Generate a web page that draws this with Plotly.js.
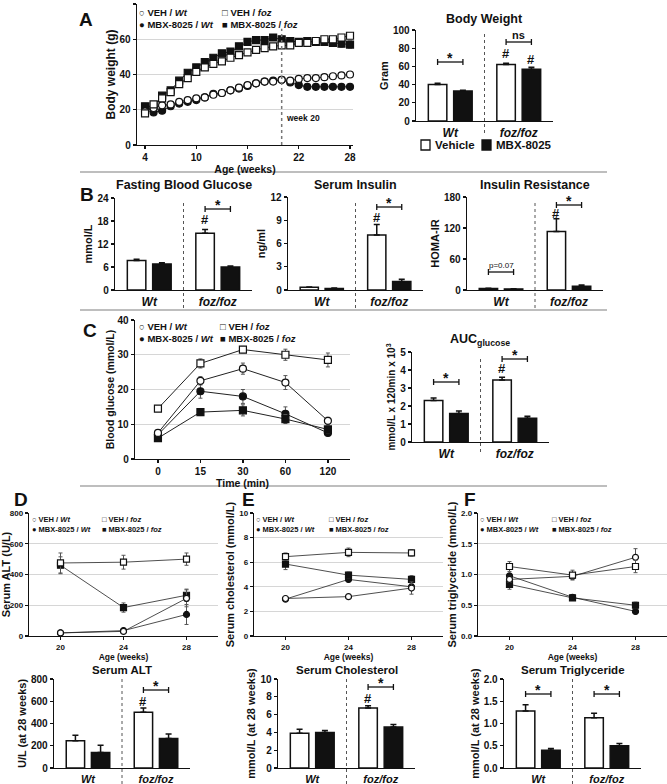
<!DOCTYPE html>
<html><head><meta charset="utf-8">
<script src="https://cdn.plot.ly/plotly-3.0.1.min.js"></script>
<style>html,body{margin:0;padding:0;background:#fff}#chart{width:667px;height:784px}</style>
</head><body><div id="chart"></div>
<script>
// ================= DATA =================
// Panel A (left): body weight by age
const weeksA = [4,5,6,7,8,9,10,11,12,13,14,15,16,17,18,19,20,21,22,23,24,25,26,27,28];
const bwVehWt  = [19,21,22.5,23,24.5,25.5,26.5,27,28.5,29.5,31,32.5,34,35,36,36,37,36.5,37.5,38,38,38.5,39,39.5,40];
const bwMbxWt  = [20,18.5,19.5,22,23.5,24.5,25.5,27,29,29.5,31,32,33.5,35,36,36.5,37,35.5,34,33,33,33,33,33,33];
const bwVehFoz = [18,23,26.5,30,34.5,38,41.5,44,46,47.5,49.5,51,52.5,54,55,56,56.5,56.5,58,58,59,60,60,61,62];
const bwMbxFoz = [22,22,28,31,36.5,41,44,47,49.5,52,53,56,58.5,59.5,59.5,61,60,59,58.5,59,58.5,58.5,58,57.5,57];
const bwVehWtErr  = [0.6,0.6,0.6,0.7,0.7,0.8,0.8,0.9,0.9,1,1,1.1,1.2,1.4,1.5,1.6,1.8,1.5,1.4,1.3,1.2,1.2,1.2,1.2,1.3];
const bwMbxWtErr  = [0.6,0.6,0.6,0.7,0.7,0.7,0.8,0.8,0.9,0.9,1,1,1.1,1.2,1.3,1.3,1.4,1.3,1.2,1.1,1,1,1,1,1];
const bwVehFozErr = [0.8,0.9,1,1,1.1,1.2,1.2,1.3,1.3,1.3,1.4,1.4,1.4,1.5,1.5,1.5,1.5,1.5,1.5,1.5,1.5,1.5,1.5,1.5,1.5];
const bwMbxFozErr = [0.8,0.9,1,1,1.1,1.2,1.2,1.3,1.3,1.3,1.4,1.4,1.5,1.5,1.5,1.6,1.6,1.6,1.7,1.7,1.8,1.8,1.9,2,2];

// Bar groups
const groups = ['Wt', 'foz/foz'];
// Panel A (right): body weight
const bwVeh = [40, 62], bwVehErr = [1.5, 1.5];
const bwMbx = [33, 57], bwMbxErr = [0.7, 2];
// Panel B
const fbgVeh = [7.7, 14.8], fbgVehErr = [0.3, 1.0];
const fbgMbx = [6.8, 6.0],  fbgMbxErr = [0.3, 0.25];
const insVeh = [0.35, 7.1], insVehErr = [0.05, 1.35];
const insMbx = [0.2, 1.1],  insMbxErr = [0.05, 0.3];
const homaVeh = [3, 113],   homaVehErr = [0.5, 25];
const homaMbx = [2, 7.5],   homaMbxErr = [0.3, 2];
// Panel C (left): GTT
const timesC = ['0', '15', '30', '60', '120'];
const gttVehWt  = [7.5, 22.5, 26, 22, 11],      gttVehWtErr  = [0.6, 1.2, 1.6, 2, 1];
const gttMbxWt  = [7, 19.5, 18, 13, 7.5],       gttMbxWtErr  = [0.5, 2, 2, 2, 0.6];
const gttVehFoz = [14.5, 27.5, 31.5, 30, 28.5], gttVehFozErr = [0.7, 1.3, 0.9, 1.6, 2];
const gttMbxFoz = [6, 13.5, 14, 11.5, 8.5],     gttMbxFozErr = [0.6, 1, 1.6, 1.3, 1];
// Panel C (right): AUC
const aucVeh = [2.3, 3.45], aucVehErr = [0.15, 0.15];
const aucMbx = [1.58, 1.32], aucMbxErr = [0.14, 0.11];
// Panels D/E/F (top): time course
const weeksDEF = [20, 24, 28];
const altVehWt  = [20, 30, 245],   altVehWtErr  = [5, 8, 55];
const altMbxWt  = [20, 35, 140],   altMbxWtErr  = [5, 10, 65];
const altVehFoz = [475, 480, 500], altVehFozErr = [65, 45, 40];
const altMbxFoz = [460, 185, 265], altMbxFozErr = [55, 30, 40];
const cholVehWt  = [3.05, 3.2, 3.9],  cholVehWtErr  = [0.1, 0.1, 0.5];
const cholMbxWt  = [3.0, 4.6, 4.0],   cholMbxWtErr  = [0.1, 0.2, 0.2];
const cholVehFoz = [6.45, 6.8, 6.75], cholVehFozErr = [0.3, 0.35, 0.25];
const cholMbxFoz = [5.85, 4.95, 4.6], cholMbxFozErr = [0.45, 0.25, 0.3];
const tgVehWt  = [0.92, 0.97, 1.28], tgVehWtErr  = [0.05, 0.03, 0.14];
const tgMbxWt  = [0.98, 0.63, 0.40], tgMbxWtErr  = [0.03, 0.03, 0.04];
const tgVehFoz = [1.13, 0.99, 1.13], tgVehFozErr = [0.08, 0.08, 0.1];
const tgMbxFoz = [0.84, 0.62, 0.50], tgMbxFozErr = [0.08, 0.03, 0.05];
// Panels D/E/F (bottom): at 28 weeks
const altBarVeh = [245, 500],  altBarVehErr = [50, 40];
const altBarMbx = [140, 265],  altBarMbxErr = [65, 40];
const cholBarVeh = [3.9, 6.75], cholBarVehErr = [0.45, 0.25];
const cholBarMbx = [4.0, 4.6],  cholBarMbxErr = [0.2, 0.3];
const tgBarVeh = [1.28, 1.13],  tgBarVehErr = [0.14, 0.1];
const tgBarMbx = [0.40, 0.50],  tgBarMbxErr = [0.04, 0.05];

// ================= LAYOUT HELPERS =================
const W = 667, H = 784;
const FONT = 'Liberation Sans, Arial, Helvetica, sans-serif';
const X = p => p / W;
const Y = p => 1 - p / H;
const fnt = (size, extra) => Object.assign({family: FONT, size: size, color: '#111', weight: 'bold'}, extra || {});
const BLACK = '#111';

const traces = [], shapes = [], annotations = [];
const layout = {
  width: W, height: H, margin: {l: 0, r: 0, t: 0, b: 0},
  paper_bgcolor: '#fff', plot_bgcolor: 'rgba(0,0,0,0)',
  showlegend: false, barmode: 'overlay', font: {family: FONT, color: BLACK},
  shapes: shapes, annotations: annotations
};

const P = {
  aL: {n: 1,  x: [137, 353], y: [4, 145]},
  aR: {n: 2,  x: [416, 553], y: [30, 121], max: 100, dt: 20},
  b1: {n: 3,  x: [115, 252], y: [198, 290], max: 24, dt: 6},
  b2: {n: 4,  x: [288, 423], y: [197, 290], max: 12, dt: 3},
  b3: {n: 5,  x: [467, 603], y: [197, 290], max: 180, dt: 60},
  cL: {n: 6,  x: [135, 350], y: [320, 459]},
  cR: {n: 7,  x: [412, 549], y: [352, 442], max: 5, dt: 1},
  dT: {n: 8,  x: [29, 218],  y: [513, 636]},
  eT: {n: 9,  x: [254, 443], y: [513, 636]},
  fT: {n: 10, x: [478, 667], y: [513, 636]},
  dB: {n: 11, x: [54, 190],  y: [679, 768], max: 800, dt: 200},
  eB: {n: 12, x: [278, 415], y: [679, 768], max: 10, dt: 2},
  fB: {n: 13, x: [504, 641], y: [679, 768], max: 2, dt: 0.5}
};
const xa = p => p.n === 1 ? 'x' : 'x' + p.n;
const ya = p => p.n === 1 ? 'y' : 'y' + p.n;
const xk = p => p.n === 1 ? 'xaxis' : 'xaxis' + p.n;
const yk = p => p.n === 1 ? 'yaxis' : 'yaxis' + p.n;
const pv = (p, py) => p.max * (p.y[1] - py) / (p.y[1] - p.y[0]);

function axes(p, xcfg, ycfg) {
  layout[xk(p)] = Object.assign({
    domain: [X(p.x[0]), X(p.x[1])], anchor: ya(p), showline: true, linecolor: BLACK, linewidth: 1.3,
    ticks: 'outside', ticklen: 3, tickwidth: 1.2, tickcolor: BLACK, showgrid: false, zeroline: false,
    fixedrange: true, tickfont: fnt(10)
  }, xcfg);
  layout[yk(p)] = Object.assign({
    domain: [Y(p.y[1]), Y(p.y[0])], anchor: xa(p), showline: true, linecolor: BLACK, linewidth: 1.3,
    ticks: 'outside', ticklen: 3, tickwidth: 1.2, tickcolor: BLACK, showgrid: false, zeroline: false,
    fixedrange: true, tickfont: fnt(10)
  }, ycfg);
}

const OFF = 0.185, BW = 0.27;
function barPanel(p, title, ytitle, veh, vehErr, mbx, mbxErr, opts) {
  opts = opts || {};
  axes(p, {type: 'category', range: [-0.5, 1.5], ticks: '', tickfont: fnt(opts.catSize || 12, {style: 'italic'})},
          {range: [0, p.max], dtick: p.dt, tickformat: opts.tickformat || '',
           title: {text: ytitle, font: fnt(opts.ytSize || 11), standoff: opts.standoff === undefined ? 2 : opts.standoff}});
  const common = {type: 'bar', x: groups, xaxis: xa(p), yaxis: ya(p), width: BW, hoverinfo: 'skip'};
  traces.push(Object.assign({}, common, {
    name: 'Vehicle', y: veh, offset: -OFF - BW / 2,
    marker: {color: '#fff', line: {color: BLACK, width: 1.5}},
    error_y: {type: 'data', symmetric: false, array: vehErr, arrayminus: vehErr.map(() => 0), color: BLACK, thickness: 1.5, width: 3}
  }));
  traces.push(Object.assign({}, common, {
    name: 'MBX-8025', y: mbx, offset: OFF - BW / 2,
    marker: {color: BLACK, line: {color: BLACK, width: 1.5}},
    error_y: {type: 'data', symmetric: false, array: mbxErr, arrayminus: mbxErr.map(() => 0), color: BLACK, thickness: 1.5, width: 3}
  }));
  shapes.push({type: 'line', xref: xa(p), yref: 'paper', x0: 0.5, x1: 0.5,
               y0: Y(opts.divBot || p.y[1] + 11), y1: Y(opts.divTop || p.y[0] + 3),
               line: {color: '#555', width: 1, dash: 'dot'}});
  if (title) annotations.push({xref: 'paper', yref: 'paper', x: X(opts.titleX || (p.x[0] + p.x[1]) / 2),
               y: Y(opts.titleY), text: title, showarrow: false, font: fnt(opts.titleSize || 12.5),
               xanchor: 'center', yanchor: 'middle', borderpad: 0});
}
function bracket(p, gi, py, label, kind) {
  const y = pv(p, py), x0 = gi - OFF, x1 = gi + OFF;
  const ln = {color: BLACK, width: 1.3};
  shapes.push({type: 'line', xref: xa(p), yref: ya(p), x0: x0, x1: x1, y0: y, y1: y, line: ln});
  [x0, x1].forEach(x => shapes.push({type: 'line', xref: xa(p), yref: ya(p), x0: x, x1: x,
    ysizemode: 'pixel', yanchor: y, y0: -3, y1: 3, line: ln}));
  let font = fnt(14), ys = -5;
  if (kind === 'ns') { font = fnt(11); ys = 0; }
  if (kind === 'p') { font = fnt(8, {weight: 'normal'}); ys = 1; }
  annotations.push({xref: xa(p), yref: ya(p), x: gi, y: y, text: label, showarrow: false, font: font,
                    xanchor: 'center', yanchor: 'bottom', yshift: ys, borderpad: 0});
}
function hash(p, xpos, py) {
  annotations.push({xref: xa(p), yref: ya(p), x: xpos, y: pv(p, py), text: '#', showarrow: false,
                    font: fnt(13), xanchor: 'center', yanchor: 'middle', borderpad: 0});
}
function lineTrace(p, x, y, err, symbol, fill, size, lw) {
  traces.push({type: 'scatter', mode: 'lines+markers', x: x, y: y, xaxis: xa(p), yaxis: ya(p),
    line: {color: '#222', width: lw || 1},
    marker: {symbol: symbol, size: size, color: fill, line: {color: BLACK, width: 1.2}},
    error_y: {type: 'data', array: err, color: '#555', thickness: 1, width: 2},
    hoverinfo: 'skip', cliponaxis: false});
}
function legend4(c1, c2, rowMid, size) {
  const cols = [
    [c1, '\u25CB VEH / <i>Wt</i><br>\u25CF MBX-8025 / <i>Wt</i>'],
    [c2, '\u25A1 VEH / <i>foz</i><br>\u25A0 MBX-8025 / <i>foz</i>']
  ];
  cols.forEach(c => annotations.push({xref: 'paper', yref: 'paper', x: X(c[0]), y: Y(rowMid), text: c[1],
    showarrow: false, font: fnt(size), xanchor: 'left', yanchor: 'middle', align: 'left', borderpad: 0}));
}
function letter(t, px, py) {
  annotations.push({xref: 'paper', yref: 'paper', x: X(px), y: Y(py), text: t, showarrow: false,
    font: fnt(19), xanchor: 'center', yanchor: 'middle'});
}
function ptext(t, px, py, size, anchor, extra) {
  annotations.push({xref: 'paper', yref: 'paper', x: X(px), y: Y(py), text: t, showarrow: false,
    font: fnt(size, extra), xanchor: anchor || 'center', yanchor: 'middle'});
}

// ================= PANEL A =================
axes(P.aL, {range: [3.06, 28.35], tickvals: [4, 10, 16, 22, 28],
            title: {text: 'Age (weeks)', font: fnt(10.5), standoff: 1}},
           {range: [0, 80], dtick: 20, showgrid: true, gridcolor: '#d6d6d6', gridwidth: 1,
            title: {text: 'Body weight (g)', font: fnt(12), standoff: 1}});
shapes.push({type: 'line', xref: 'x', yref: 'y', x0: 20, x1: 20, y0: 0, y1: 66,
             line: {color: '#777', width: 1.5, dash: 'dot'}});
annotations.push({xref: 'x', yref: 'y', x: 20, y: 15.5, xanchor: 'left', xshift: 2, text: 'week 20',
                  showarrow: false, font: fnt(8.5)});
lineTrace(P.aL, weeksA, bwMbxWt, bwMbxWtErr, 'circle', BLACK, 7);
lineTrace(P.aL, weeksA, bwMbxFoz, bwMbxFozErr, 'square', BLACK, 7);
lineTrace(P.aL, weeksA, bwVehWt, bwVehWtErr, 'circle', '#fff', 7);
lineTrace(P.aL, weeksA, bwVehFoz, bwVehFozErr, 'square', '#fff', 7);
legend4(138, 221, 18.5, 9.5);
letter('A', 86, 20);

barPanel(P.aR, 'Body Weight', 'Gram', bwVeh, bwVehErr, bwMbx, bwMbxErr,
         {titleY: 19, divTop: 33, divBot: 133});
bracket(P.aR, 0, 62, '*');
bracket(P.aR, 1, 42, 'ns', 'ns');
hash(P.aR, 1 - OFF, 54);
hash(P.aR, 1 + OFF, 60);
shapes.push({type: 'rect', xref: 'paper', yref: 'paper', x0: X(421), x1: X(430), y0: Y(150), y1: Y(140),
             fillcolor: '#fff', line: {color: BLACK, width: 1.3}});
shapes.push({type: 'rect', xref: 'paper', yref: 'paper', x0: X(482), x1: X(491), y0: Y(150), y1: Y(140),
             fillcolor: BLACK, line: {color: BLACK, width: 1.3}});
ptext('Vehicle', 433, 145, 11.5, 'left');
ptext('MBX-8025', 494, 145, 11.5, 'left');

// ================= PANEL B =================
barPanel(P.b1, 'Fasting Blood Glucose', 'mmol/L', fbgVeh, fbgVehErr, fbgMbx, fbgMbxErr,
         {titleY: 185, divTop: 200, divBot: 308});
hash(P.b1, 1 - OFF, 220);
bracket(P.b1, 1, 209, '*');
barPanel(P.b2, 'Serum Insulin', 'ng/ml', insVeh, insVehErr, insMbx, insMbxErr,
         {titleY: 185, divTop: 200, divBot: 308});
hash(P.b2, 1 - OFF, 218);
bracket(P.b2, 1, 207, '*');
barPanel(P.b3, 'Insulin Resistance', 'HOMA-IR', homaVeh, homaVehErr, homaMbx, homaMbxErr,
         {titleY: 185, divTop: 200, divBot: 308});
hash(P.b3, 1 - OFF, 214);
bracket(P.b3, 1, 205, '*');
bracket(P.b3, 0, 272, 'p=0.07', 'p');
letter('B', 87, 194);

// ================= PANEL C =================
axes(P.cL, {type: 'category', categoryarray: timesC, categoryorder: 'array', range: [-0.54, 4.52],
            title: {text: 'Time (min)', font: fnt(10.5), standoff: 1}},
           {range: [0, 40], dtick: 10, showgrid: true, gridcolor: '#d6d6d6', gridwidth: 1,
            title: {text: 'Blood glucose (mmol/L)', font: fnt(10.5), standoff: 1}});
lineTrace(P.cL, timesC, gttMbxWt, gttMbxWtErr, 'circle', BLACK, 7);
lineTrace(P.cL, timesC, gttMbxFoz, gttMbxFozErr, 'square', BLACK, 7);
lineTrace(P.cL, timesC, gttVehWt, gttVehWtErr, 'circle', '#fff', 7);
lineTrace(P.cL, timesC, gttVehFoz, gttVehFozErr, 'square', '#fff', 7);
legend4(138, 219, 332.5, 9.5);
letter('C', 90, 331);

barPanel(P.cR, 'AUC<sub>glucose</sub>', 'mmol/L x 120min x 10<sup>3</sup>', aucVeh, aucVehErr, aucMbx, aucMbxErr,
         {titleY: 340, titleX: 480, divTop: 358, divBot: 452, ytSize: 10});
bracket(P.cR, 0, 382, '*');
bracket(P.cR, 1, 359, '*');
hash(P.cR, 1 - OFF, 368);

// ================= PANELS D / E / F (top) =================
function defTop(p, ytitle, yr, dt, tf, ser, legendCols) {
  axes(p, {range: [18, 30], tickvals: weeksDEF, tickfont: fnt(8),
           title: {text: 'Age (weeks)', font: fnt(8.5), standoff: 0}},
          {range: yr, dtick: dt, tickformat: tf, tickfont: fnt(8), showgrid: true, gridcolor: '#d6d6d6', gridwidth: 1,
           title: {text: ytitle, font: fnt(11), standoff: 2}});
  lineTrace(p, weeksDEF, ser[1][0], ser[1][1], 'circle', BLACK, 6, 0.8);
  lineTrace(p, weeksDEF, ser[3][0], ser[3][1], 'square', BLACK, 6, 0.8);
  lineTrace(p, weeksDEF, ser[0][0], ser[0][1], 'circle', '#fff', 6, 0.8);
  lineTrace(p, weeksDEF, ser[2][0], ser[2][1], 'square', '#fff', 6, 0.8);
  legend4(legendCols[0], legendCols[1], 524.5, 7.5);
}
defTop(P.dT, 'Serum ALT (U/L)', [0, 800], 200, '',
       [[altVehWt, altVehWtErr], [altMbxWt, altMbxWtErr], [altVehFoz, altVehFozErr], [altMbxFoz, altMbxFozErr]], [31, 101]);
defTop(P.eT, 'Serum cholesterol (mmol/L)', [0, 10], 2, '',
       [[cholVehWt, cholVehWtErr], [cholMbxWt, cholMbxWtErr], [cholVehFoz, cholVehFozErr], [cholMbxFoz, cholMbxFozErr]], [255, 328]);
defTop(P.fT, 'Serum triglyceride (mmol/L)', [0, 2], 0.5, '.1f',
       [[tgVehWt, tgVehWtErr], [tgMbxWt, tgMbxWtErr], [tgVehFoz, tgVehFozErr], [tgMbxFoz, tgMbxFozErr]], [479, 551]);
letter('D', 21, 499);
letter('E', 248, 499);
letter('F', 470, 499);

// ================= PANELS D / E / F (bottom) =================
const botOpts = {titleY: 670, titleSize: 11.5, divTop: 676, divBot: 784, catSize: 11};
barPanel(P.dB, 'Serum ALT', 'U/L (at 28 weeks)', altBarVeh, altBarVehErr, altBarMbx, altBarMbxErr, botOpts);
hash(P.dB, 1 - OFF, 701);
bracket(P.dB, 1, 690, '*');
barPanel(P.eB, 'Serum Cholesterol', 'mmol/L (at 28 weeks)', cholBarVeh, cholBarVehErr, cholBarMbx, cholBarMbxErr, botOpts);
hash(P.eB, 1 - OFF, 698);
bracket(P.eB, 1, 687, '*');
barPanel(P.fB, 'Serum Triglyceride', 'mmol/L (at 28 weeks)', tgBarVeh, tgBarVehErr, tgBarMbx, tgBarMbxErr,
         Object.assign({}, botOpts, {tickformat: '.1f'}));
bracket(P.fB, 0, 694, '*');
bracket(P.fB, 1, 694, '*');

// ================= separators =================
[172, 310, 486].forEach(py => shapes.push({type: 'line', xref: 'paper', yref: 'paper',
  x0: X(80), x1: X(607), y0: Y(py), y1: Y(py), line: {color: '#a8a8a8', width: 1.5}}));

Plotly.newPlot('chart', traces, layout, {displayModeBar: false, staticPlot: true});
</script>
</body></html>
